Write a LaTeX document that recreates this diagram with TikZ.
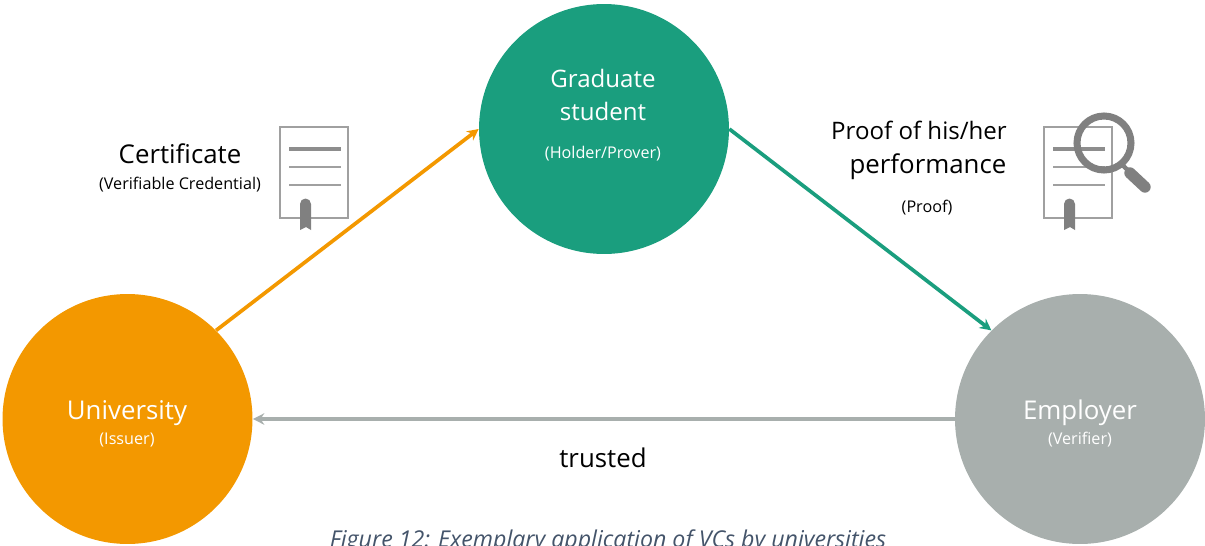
\documentclass[tikz,border=0pt]{standalone}
\usepackage{fontspec}
\usepackage{xcolor}
\setmainfont{Open Sans}
\usetikzlibrary{arrows.meta}

\definecolor{uniorange}{RGB}{243,152,0}
\definecolor{gradteal}{RGB}{26,158,126}
\definecolor{empgray}{RGB}{168,175,173}
\definecolor{icongray}{RGB}{128,128,128}
\definecolor{captionblue}{RGB}{68,84,106}

\tikzset{
    party/.style={circle, inner sep=0pt, minimum size=5cm},
    bigtext/.style={inner sep=0pt, font=\fontsize{14.7}{17}\selectfont},
    midtext/.style={inner sep=0pt, font=\fontsize{13.7}{18.5}\selectfont},
    smalltext/.style={inner sep=0pt, font=\fontsize{9.2}{11}\selectfont},
    flow/.style={line width=2.1pt, -{Stealth[length=6.5pt, width=6.5pt]}},
    certificate/.pic={
        \draw[icongray!75, line width=1pt, fill=white] (0, 0) rectangle (68, 91);
        \draw[icongray!90, line width=2pt] (9, 22) -- (61, 22);
        \draw[icongray!75, line width=1.2pt] (9, 40) -- (61, 40);
        \draw[icongray!75, line width=1.2pt] (9, 58) -- (61, 58);
        \fill[icongray] (20, 77) arc (180:360:5.5) -- (31, 103) -- (26, 100) -- (20, 103) -- cycle;
    }
}

\begin{document}
\begin{tikzpicture}[x=0.02cm, y=-0.02cm]
    \clip (0, 0) rectangle (1205, 545);
    \useasboundingbox (0, 0) rectangle (1205, 545);

    \node[party, fill=gradteal] (grad) at (604, 129) {};
    \node[party, fill=uniorange] (univ) at (127.5, 419) {};
    \node[party, fill=empgray] (emp) at (1080, 419) {};

    \draw[flow, uniorange] (univ.45) -- (grad.west);
    \draw[flow, gradteal] (grad.east) -- (emp.135);
    \draw[flow, empgray] (emp.west) -- (univ.east);

    \node[midtext, text=white, align=center] (gradname) at (603, 95) {Graduate\\student};
    \node[smalltext, text=white] (gradrole) at (603, 154) {(Holder/Prover)};
    \node[bigtext, text=white] (uniname) at (127, 413) {University};
    \node[smalltext, text=white] (unirole) at (127, 440) {(Issuer)};
    \node[bigtext, text=white] (empname) at (1080, 413) {Employer};
    \node[smalltext, text=white] (emprole) at (1080, 440) {(Verifier)};

    \node[bigtext] (cert) at (180, 154) {Certificate};
    \node[smalltext] (vc) at (180, 185) {(Verifiable Credential)};
    \node[midtext] (proofa) at (919, 130) {Proof of his/her};
    \node[bigtext] (proofb) at (928, 167) {performance};
    \node[smalltext] (proofc) at (927, 208) {(Proof)};
    \node[bigtext] (trusted) at (603, 458) {trusted};

    \pic at (280, 127) {certificate};
    \pic at (1044, 127) {certificate};

    % magnifier on the second icon
    \draw[icongray, line width=4pt] (1104, 143) circle (27);
    \draw[icongray, line width=2.5pt] (1120, 163) -- (1130, 172);
    \draw[icongray, line width=6.5pt, line cap=round] (1130, 173) -- (1145, 187);

    \node[font=\fontsize{13.2}{16}\selectfont\itshape, text=captionblue, inner sep=0pt, anchor=base] (caption) at (608, 547) {Figure 12: Exemplary application of VCs by universities};
\end{tikzpicture}
\end{document}
